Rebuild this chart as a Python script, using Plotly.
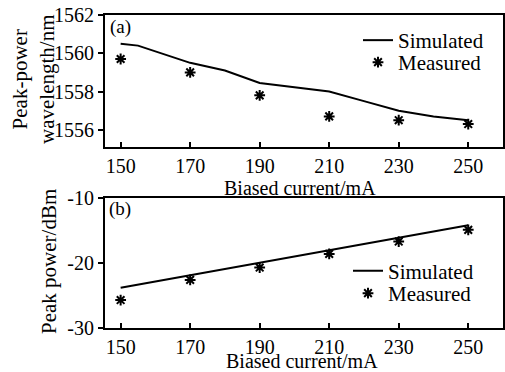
import plotly.graph_objects as go

current = [150, 170, 190, 210, 230, 250]

# panel (a)
sim_a_x = [150, 155, 170, 180, 190, 210, 220, 230, 240, 250]
sim_a_y = [1560.5, 1560.4, 1559.5, 1559.1, 1558.45, 1558.0, 1557.5, 1557.0, 1556.7, 1556.5]
meas_a = [1559.7, 1559.0, 1557.8, 1556.7, 1556.5, 1556.3]

# panel (b)
sim_b_x = [150, 170, 190, 210, 230, 250]
sim_b_y = [-23.8, -21.9, -19.9, -18.0, -16.2, -14.2]
meas_b = [-25.7, -22.6, -20.7, -18.6, -16.7, -14.9]

x_ticks = [150, 170, 190, 210, 230, 250]
ya_ticks = [1556, 1558, 1560, 1562]
yb_ticks = [-30, -20, -10]
yb_labels = ["-30", "-20", "-10"]

FONT = "Liberation Serif"
W, H = 505, 372
ML, MR, MT, MB = 105, 2, 15, 44
plot_w = W - ML - MR
plot_h = H - MT - MB


def px_x(px):
    return (px - ML) / plot_w


def px_y(py):
    return 1 - (py - MT) / plot_h


fig = go.Figure()

line_style = dict(color="black", width=2)
marker_style = dict(symbol="asterisk-open", size=9, color="black", line=dict(color="black", width=2))

fig.add_trace(go.Scatter(x=sim_a_x, y=sim_a_y, mode="lines", line=line_style, name="Simulated",
                         xaxis="x", yaxis="y", legend="legend"))
fig.add_trace(go.Scatter(x=current, y=meas_a, mode="markers", marker=marker_style, name="Measured",
                         xaxis="x", yaxis="y", legend="legend2"))
fig.add_trace(go.Scatter(x=sim_b_x, y=sim_b_y, mode="lines", line=line_style, name="Simulated",
                         xaxis="x2", yaxis="y2", legend="legend3"))
fig.add_trace(go.Scatter(x=current, y=meas_b, mode="markers", marker=marker_style, name="Measured",
                         xaxis="x2", yaxis="y2", legend="legend4"))

axis_common = dict(showline=True, linecolor="black", linewidth=2, mirror=True, showgrid=False,
                   zeroline=False, automargin=False,
                   tickfont=dict(family=FONT, size=20, color="black"))
xcommon = dict(axis_common, range=[145.5, 260], tickvals=x_ticks, ticks="inside", ticklen=5,
               tickwidth=2, tickcolor="black")
ycommon = dict(axis_common, ticks="outside", ticklen=5, tickwidth=2, tickcolor="black")

top_dom = [px_y(147), 1]
bot_dom = [0, px_y(198)]


def leg(xpx, ypx):
    return dict(x=px_x(xpx), y=px_y(ypx), xanchor="left", yanchor="middle",
                bgcolor="rgba(0,0,0,0)", borderwidth=0,
                font=dict(family=FONT, size=21), tracegroupgap=0, itemwidth=30)


def ann(text, xpx, ypx, size=21, angle=0, xanchor="center", yanchor="middle"):
    return dict(text=text, x=px_x(xpx), y=px_y(ypx), xref="paper", yref="paper",
                xanchor=xanchor, yanchor=yanchor, textangle=angle, showarrow=False,
                font=dict(family=FONT, size=size, color="black"))


fig.update_layout(
    width=W, height=H,
    margin=dict(l=ML, r=MR, t=MT, b=MB, autoexpand=False),
    paper_bgcolor="white", plot_bgcolor="white",
    font=dict(family=FONT, size=20, color="black"),
    showlegend=True,
    xaxis=dict(xcommon, domain=[0, 1], anchor="y"),
    yaxis=dict(ycommon, domain=top_dom, anchor="x", range=[1555.1, 1562], tickvals=ya_ticks),
    xaxis2=dict(xcommon, domain=[0, 1], anchor="y2"),
    yaxis2=dict(ycommon, domain=bot_dom, anchor="x2", range=[-30, -10], tickvals=yb_ticks,
                ticktext=yb_labels),
    legend=leg(358, 40.5),
    legend2=leg(358, 62.5),
    legend3=leg(348, 271),
    legend4=leg(348, 293.5),
    annotations=[
        ann("(a)", 120, 27, size=19),
        ann("(b)", 120, 209, size=19),
        ann("Peak-power<br>wavelength/nm", 33, 80, angle=-90),
        ann("Biased current/mA", 300, 187.5, size=20),
        ann("Peak power/dBm", 49, 262, angle=-90),
        ann("Biased current/mA", 302, 361, size=20),
    ],
)

fig.write_html("out.html", config={"displayModeBar": False},
               post_script="document.body.style.margin='0';document.body.style.overflow='hidden';")
